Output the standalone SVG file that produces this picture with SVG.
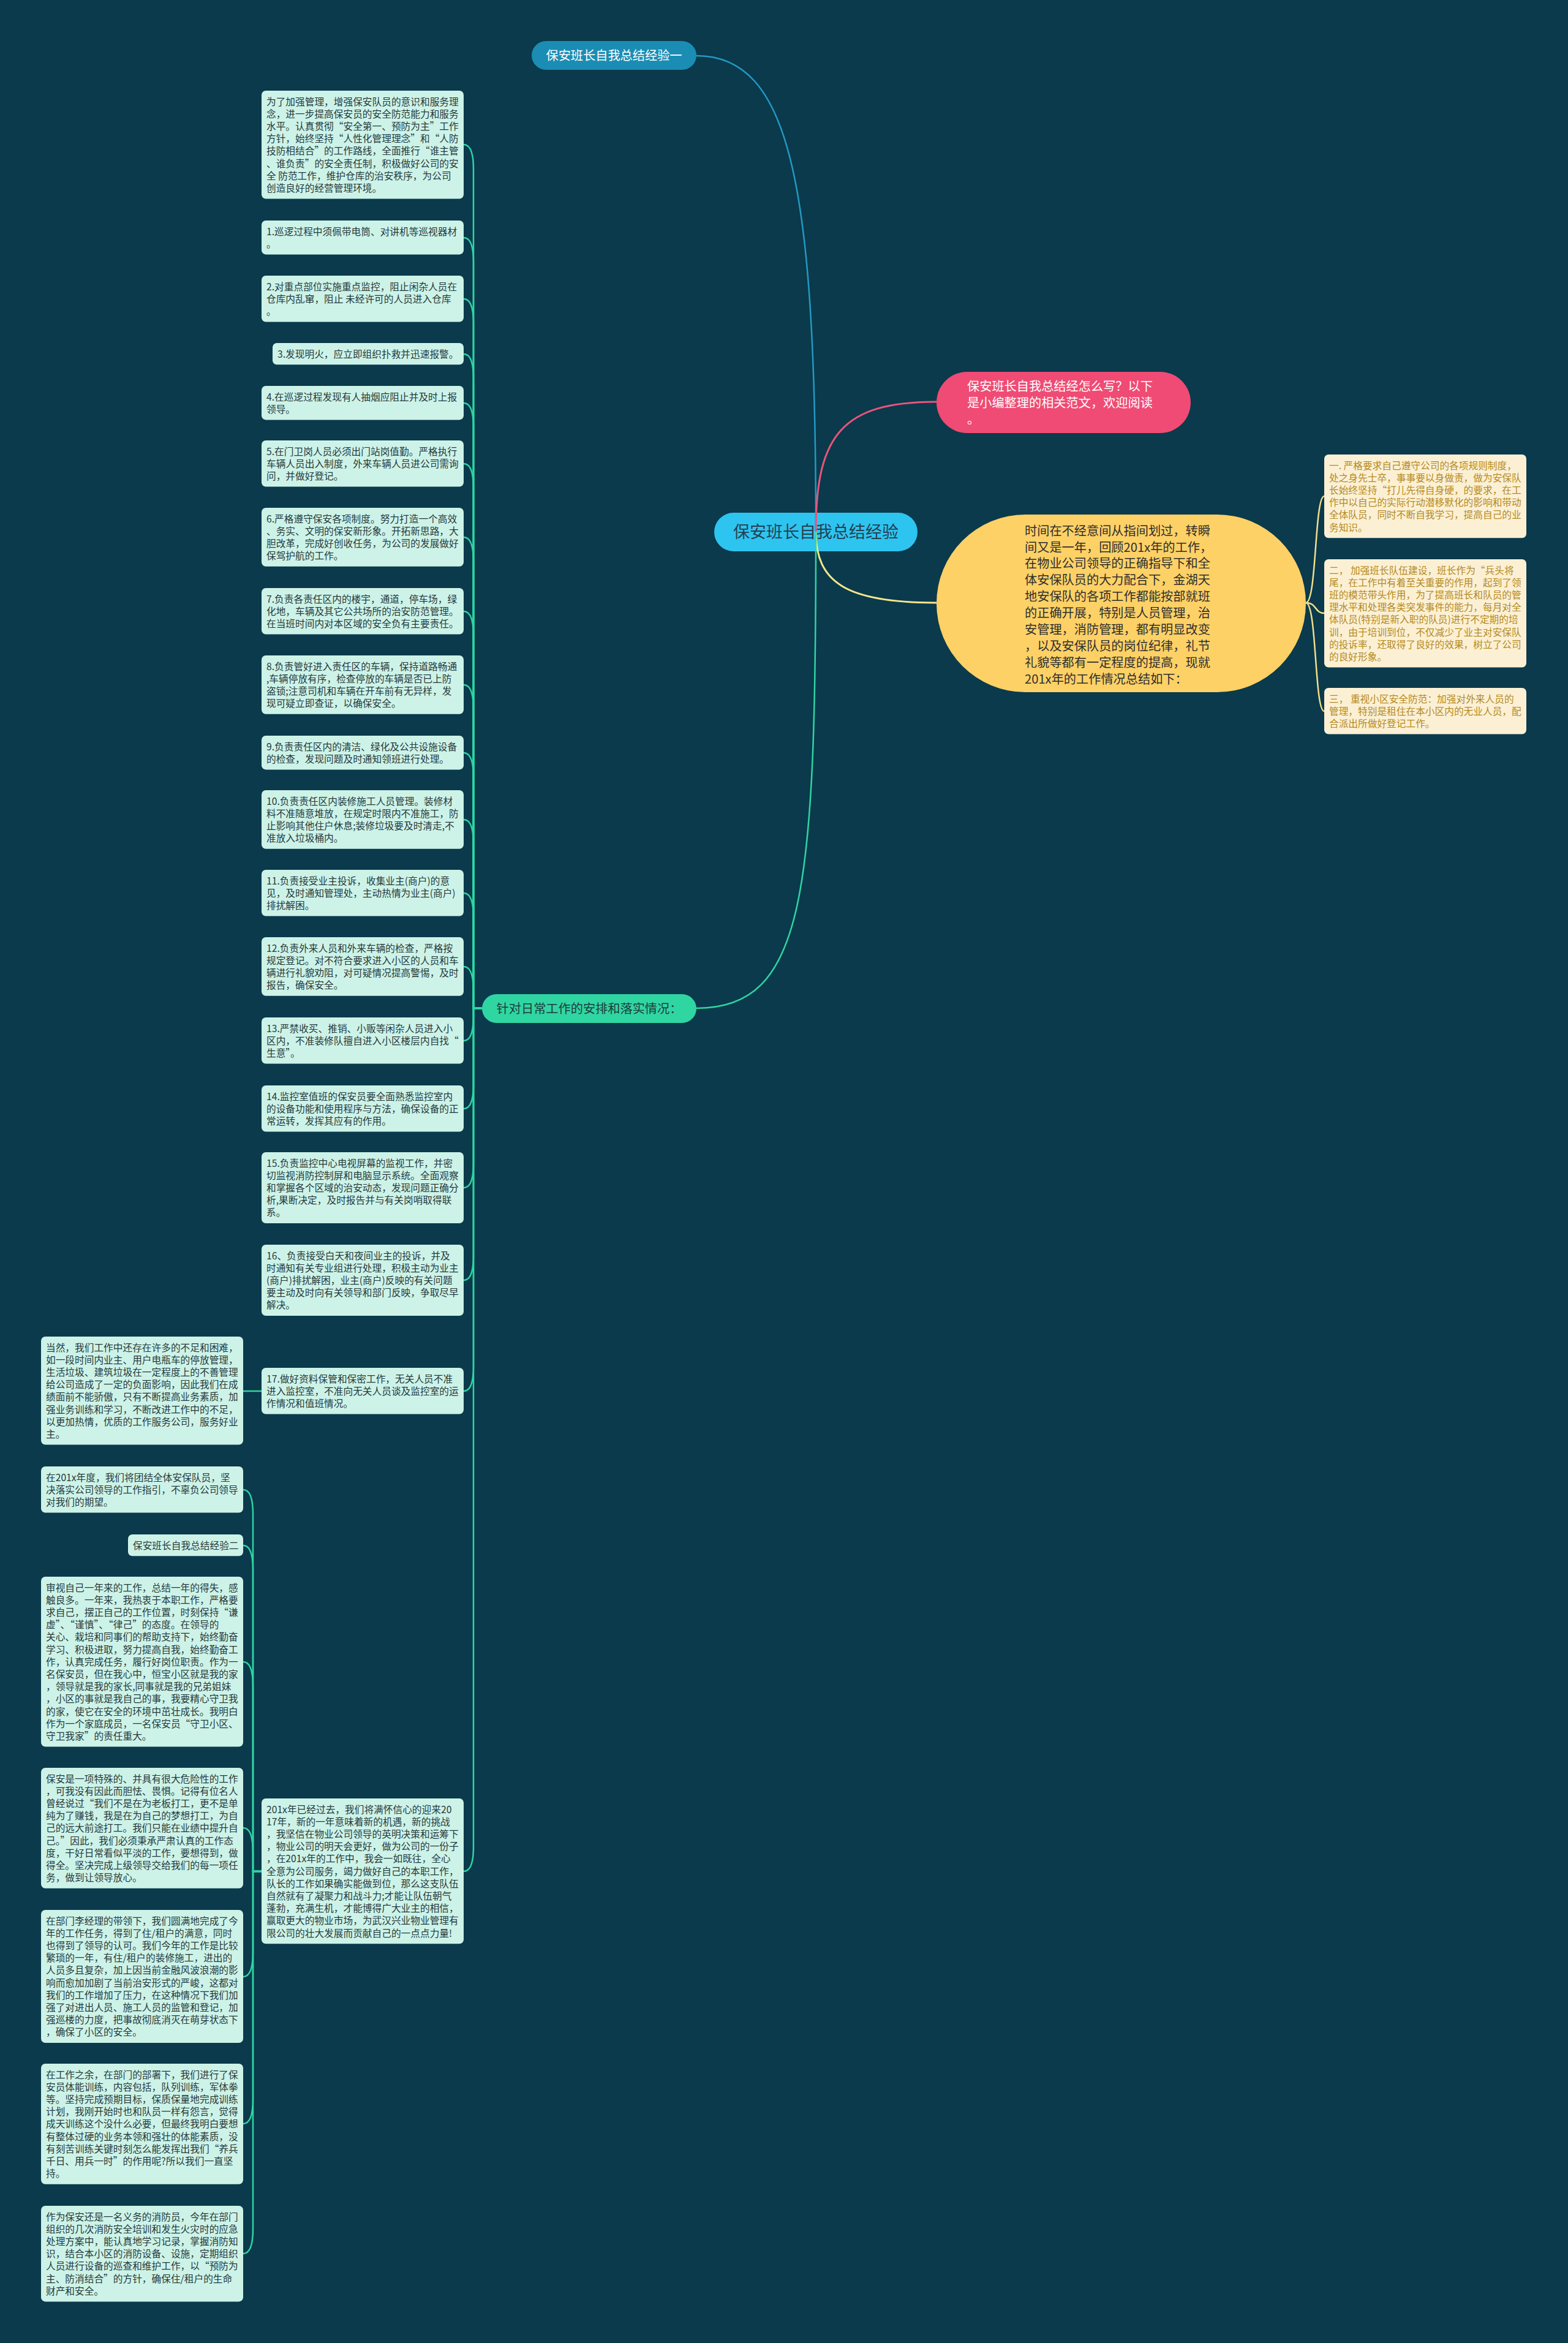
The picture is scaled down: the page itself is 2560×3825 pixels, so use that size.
<svg xmlns="http://www.w3.org/2000/svg" width="2560" height="3825" viewBox="0 0 2560 3825">
<style>
.t{font-family:"Noto Sans CJK SC","Noto Sans",sans-serif}
.ln{fill:#cdf3e8}
.lt{font-size:15.7px;fill:#26393c}
.rn{fill:#fcf0d4}
.rt{font-size:15.7px;fill:#b48a22}
.cg{fill:none;stroke:#2fd5a2;stroke-width:2.5}
.cy{fill:none;stroke:#f3de8a;stroke-width:2.5}
</style>
<rect x="0" y="0" width="2560" height="3825" fill="#0a3a4c"/>

<g id="root">
<rect x="1166" y="837" width="332" height="63" rx="31.5" fill="#2ec4f0"/>
<text class="t" x="1332" y="878" font-size="27" fill="#244050" text-anchor="middle">保安班长自我总结经验</text>
</g>

<g id="n-jingyan1">
<rect x="868" y="67" width="269" height="47" rx="23.5" fill="#1b8db4"/>
<text class="t" x="1002.5" y="98" font-size="20.2" fill="#ffffff" text-anchor="middle">保安班长自我总结经验一</text>
</g>

<g id="n-pink">
<rect x="1529" y="607" width="415" height="100" rx="50" fill="#ef4b74"/>
<text class="t" font-size="20.2" fill="#ffffff"><tspan x="1579" y="637.6">保安班长自我总结经怎么写？以下</tspan><tspan x="1579" y="664.6">是小编整理的相关范文，欢迎阅读</tspan><tspan x="1579" y="691.6">。</tspan></text>
</g>

<g id="n-yellow">
<rect x="1529" y="840" width="603" height="290" rx="145" fill="#fdd166"/>
<text class="t" font-size="20.2" fill="#2e2e2e"><tspan x="1673" y="873.6">时间在不经意间从指间划过，转瞬</tspan><tspan x="1673" dy="26.9">间又是一年，回顾201x年的工作，</tspan><tspan x="1673" dy="26.9">在物业公司领导的正确指导下和全</tspan><tspan x="1673" dy="26.9">体安保队员的大力配合下，金湖天</tspan><tspan x="1673" dy="26.9">地安保队的各项工作都能按部就班</tspan><tspan x="1673" dy="26.9">的正确开展，特别是人员管理，治</tspan><tspan x="1673" dy="26.9">安管理，消防管理，都有明显改变</tspan><tspan x="1673" dy="26.9">，以及安保队员的岗位纪律，礼节</tspan><tspan x="1673" dy="26.9">礼貌等都有一定程度的提高，现就</tspan><tspan x="1673" dy="26.9">201x年的工作情况总结如下：</tspan></text>
</g>

<g id="n-r1">
<rect class="rn" x="2162" y="742" width="330" height="136.2" rx="7"/>
<text class="t rt"><tspan x="2170" y="765.5">一. 严格要求自己遵守公司的各项规则制度，</tspan><tspan x="2170" dy="20.2">处之身先士卒，事事要以身做责，做为安保队</tspan><tspan x="2170" dy="20.2">长始终坚持“打儿先得自身硬，的要求，在工</tspan><tspan x="2170" dy="20.2">作中以自己的实际行动潜移默化的影响和带动</tspan><tspan x="2170" dy="20.2">全体队员，同时不断自我学习，提高自己的业</tspan><tspan x="2170" dy="20.2">务知识。</tspan></text>
</g>
<g id="n-r2">
<rect class="rn" x="2162" y="913" width="330" height="176.6" rx="7"/>
<text class="t rt"><tspan x="2170" y="936.5">二，  加强班长队伍建设，班长作为“兵头将</tspan><tspan x="2170" dy="20.2">尾，在工作中有着至关重要的作用，起到了领</tspan><tspan x="2170" dy="20.2">班的模范带头作用，为了提高班长和队员的管</tspan><tspan x="2170" dy="20.2">理水平和处理各类突发事件的能力，每月对全</tspan><tspan x="2170" dy="20.2">体队员(特别是新入职的队员)进行不定期的培</tspan><tspan x="2170" dy="20.2">训，由于培训到位，不仅减少了业主对安保队</tspan><tspan x="2170" dy="20.2">的投诉率，还取得了良好的效果，树立了公司</tspan><tspan x="2170" dy="20.2">的良好形象。</tspan></text>
</g>
<g id="n-r3">
<rect class="rn" x="2162" y="1123" width="330" height="75.6" rx="7"/>
<text class="t rt"><tspan x="2170" y="1146.5">三，  重视小区安全防范：加强对外来人员的</tspan><tspan x="2170" dy="20.2">管理，特别是租住在本小区内的无业人员，配</tspan><tspan x="2170" dy="20.2">合派出所做好登记工作。</tspan></text>
</g>

<g id="n-zhendui">
<rect x="787" y="1623" width="350" height="47" rx="23.5" fill="#30d6a2"/>
<text class="t" x="962" y="1654" font-size="20.2" fill="#1c3d3a" text-anchor="middle">针对日常工作的安排和落实情况：</text>
</g>

<g id="n-a">
<rect class="ln" x="427" y="148" width="330" height="176.6" rx="7"/>
<text class="t lt"><tspan x="435" y="171.5">为了加强管理，增强保安队员的意识和服务理</tspan><tspan x="435" dy="20.2">念，进一步提高保安员的安全防范能力和服务</tspan><tspan x="435" dy="20.2">水平。认真贯彻“安全第一、预防为主”工作</tspan><tspan x="435" dy="20.2">方针，始终坚持“人性化管理理念”和“人防</tspan><tspan x="435" dy="20.2">技防相结合”的工作路线，全面推行“谁主管</tspan><tspan x="435" dy="20.2">、谁负责”的安全责任制，积极做好公司的安</tspan><tspan x="435" dy="20.2">全 防范工作，维护仓库的治安秩序，为公司</tspan><tspan x="435" dy="20.2">创造良好的经营管理环境。</tspan></text>
</g>
<g id="n-1">
<rect class="ln" x="427" y="360" width="330" height="55.4" rx="7"/>
<text class="t lt"><tspan x="435" y="383.5">1.巡逻过程中须佩带电筒、对讲机等巡视器材</tspan><tspan x="435" dy="20.2">。</tspan></text>
</g>
<g id="n-2">
<rect class="ln" x="427" y="450" width="330" height="75.6" rx="7"/>
<text class="t lt"><tspan x="435" y="473.5">2.对重点部位实施重点监控，阻止闲杂人员在</tspan><tspan x="435" dy="20.2">仓库内乱窜，阻止 未经许可的人员进入仓库</tspan><tspan x="435" dy="20.2">。</tspan></text>
</g>
<g id="n-3">
<rect class="ln" x="445" y="560" width="312" height="35.2" rx="7"/>
<text class="t lt"><tspan x="453" y="583.5">3.发现明火，应立即组织扑救并迅速报警。</tspan></text>
</g>
<g id="n-4">
<rect class="ln" x="427" y="630" width="330" height="55.4" rx="7"/>
<text class="t lt"><tspan x="435" y="653.5">4.在巡逻过程发现有人抽烟应阻止并及时上报</tspan><tspan x="435" dy="20.2">领导。</tspan></text>
</g>
<g id="n-5">
<rect class="ln" x="427" y="719" width="330" height="75.6" rx="7"/>
<text class="t lt"><tspan x="435" y="742.5">5.在门卫岗人员必须出门站岗值勤。严格执行</tspan><tspan x="435" dy="20.2">车辆人员出入制度，外来车辆人员进公司需询</tspan><tspan x="435" dy="20.2">问，并做好登记。</tspan></text>
</g>
<g id="n-6">
<rect class="ln" x="427" y="829" width="330" height="95.8" rx="7"/>
<text class="t lt"><tspan x="435" y="852.5">6.严格遵守保安各项制度。努力打造一个高效</tspan><tspan x="435" dy="20.2">、务实、文明的保安新形象。开拓新思路，大</tspan><tspan x="435" dy="20.2">胆改革，完成好创收任务，为公司的发展做好</tspan><tspan x="435" dy="20.2">保驾护航的工作。</tspan></text>
</g>
<g id="n-7">
<rect class="ln" x="427" y="960" width="330" height="75.6" rx="7"/>
<text class="t lt"><tspan x="435" y="983.5">7.负责各责任区内的楼宇，通道，停车场，绿</tspan><tspan x="435" dy="20.2">化地，车辆及其它公共场所的治安防范管理。</tspan><tspan x="435" dy="20.2">在当班时间内对本区域的安全负有主要责任。</tspan></text>
</g>
<g id="n-8">
<rect class="ln" x="427" y="1070" width="330" height="95.8" rx="7"/>
<text class="t lt"><tspan x="435" y="1093.5">8.负责管好进入责任区的车辆，保持道路畅通</tspan><tspan x="435" dy="20.2">,车辆停放有序，检查停放的车辆是否已上防</tspan><tspan x="435" dy="20.2">盗锁;注意司机和车辆在开车前有无异样，发</tspan><tspan x="435" dy="20.2">现可疑立即查证，以确保安全。</tspan></text>
</g>
<g id="n-9">
<rect class="ln" x="427" y="1201" width="330" height="55.4" rx="7"/>
<text class="t lt"><tspan x="435" y="1224.5">9.负责责任区内的清洁、绿化及公共设施设备</tspan><tspan x="435" dy="20.2">的检查，发现问题及时通知领班进行处理。</tspan></text>
</g>
<g id="n-10">
<rect class="ln" x="427" y="1290" width="330" height="95.8" rx="7"/>
<text class="t lt"><tspan x="435" y="1313.5">10.负责责任区内装修施工人员管理。装修材</tspan><tspan x="435" dy="20.2">料不准随意堆放，在规定时限内不准施工，防</tspan><tspan x="435" dy="20.2">止影响其他住户休息;装修垃圾要及时清走,不</tspan><tspan x="435" dy="20.2">准放入垃圾桶内。</tspan></text>
</g>
<g id="n-11">
<rect class="ln" x="427" y="1420" width="330" height="75.6" rx="7"/>
<text class="t lt"><tspan x="435" y="1443.5">11.负责接受业主投诉，收集业主(商户)的意</tspan><tspan x="435" dy="20.2">见，及时通知管理处，主动热情为业主(商户)</tspan><tspan x="435" dy="20.2">排扰解困。</tspan></text>
</g>
<g id="n-12">
<rect class="ln" x="427" y="1530" width="330" height="95.8" rx="7"/>
<text class="t lt"><tspan x="435" y="1553.5">12.负责外来人员和外来车辆的检查，严格按</tspan><tspan x="435" dy="20.2">规定登记。对不符合要求进入小区的人员和车</tspan><tspan x="435" dy="20.2">辆进行礼貌劝阻，对可疑情况提高警惕，及时</tspan><tspan x="435" dy="20.2">报告，确保安全。</tspan></text>
</g>
<g id="n-13">
<rect class="ln" x="427" y="1661" width="330" height="75.6" rx="7"/>
<text class="t lt"><tspan x="435" y="1684.5">13.严禁收买、推销、小贩等闲杂人员进入小</tspan><tspan x="435" dy="20.2">区内，不准装修队擅自进入小区楼层内自找“</tspan><tspan x="435" dy="20.2">生意”。</tspan></text>
</g>
<g id="n-14">
<rect class="ln" x="427" y="1772" width="330" height="75.6" rx="7"/>
<text class="t lt"><tspan x="435" y="1795.5">14.监控室值班的保安员要全面熟悉监控室内</tspan><tspan x="435" dy="20.2">的设备功能和使用程序与方法，确保设备的正</tspan><tspan x="435" dy="20.2">常运转，发挥其应有的作用。</tspan></text>
</g>
<g id="n-15">
<rect class="ln" x="427" y="1881" width="330" height="116" rx="7"/>
<text class="t lt"><tspan x="435" y="1904.5">15.负责监控中心电视屏幕的监视工作，并密</tspan><tspan x="435" dy="20.2">切监视消防控制屏和电脑显示系统。全面观察</tspan><tspan x="435" dy="20.2">和掌握各个区域的治安动态，发现问题正确分</tspan><tspan x="435" dy="20.2">析,果断决定，及时报告并与有关岗哨取得联</tspan><tspan x="435" dy="20.2">系。</tspan></text>
</g>
<g id="n-16">
<rect class="ln" x="427" y="2032" width="330" height="116" rx="7"/>
<text class="t lt"><tspan x="435" y="2055.5">16、负责接受白天和夜间业主的投诉，并及</tspan><tspan x="435" dy="20.2">时通知有关专业组进行处理，积极主动为业主</tspan><tspan x="435" dy="20.2">(商户)排扰解困，业主(商户)反映的有关问题</tspan><tspan x="435" dy="20.2">要主动及时向有关领导和部门反映，争取尽早</tspan><tspan x="435" dy="20.2">解决。</tspan></text>
</g>
<g id="n-17">
<rect class="ln" x="427" y="2233" width="330" height="75.6" rx="7"/>
<text class="t lt"><tspan x="435" y="2256.5">17.做好资料保管和保密工作，无关人员不准</tspan><tspan x="435" dy="20.2">进入监控室，不准向无关人员谈及监控室的运</tspan><tspan x="435" dy="20.2">作情况和值班情况。</tspan></text>
</g>
<g id="n-201x">
<rect class="ln" x="427" y="2936" width="330" height="237.2" rx="7"/>
<text class="t lt"><tspan x="435" y="2959.5">201x年已经过去，我们将满怀信心的迎来20</tspan><tspan x="435" dy="20.2">17年，新的一年意味着新的机遇，新的挑战</tspan><tspan x="435" dy="20.2">，我坚信在物业公司领导的英明决策和运筹下</tspan><tspan x="435" dy="20.2">，物业公司的明天会更好，做为公司的一份子</tspan><tspan x="435" dy="20.2">，在201x年的工作中，我会一如既往，全心</tspan><tspan x="435" dy="20.2">全意为公司服务，竭力做好自己的本职工作，</tspan><tspan x="435" dy="20.2">队长的工作如果确实能做到位，那么这支队伍</tspan><tspan x="435" dy="20.2">自然就有了凝聚力和战斗力;才能让队伍朝气</tspan><tspan x="435" dy="20.2">蓬勃，充满生机，才能博得广大业主的相信，</tspan><tspan x="435" dy="20.2">赢取更大的物业市场，为武汉兴业物业管理有</tspan><tspan x="435" dy="20.2">限公司的壮大发展而贡献自己的一点点力量!</tspan></text>
</g>

<g id="n-dangran">
<rect class="ln" x="67" y="2182" width="330" height="176.6" rx="7"/>
<text class="t lt"><tspan x="75" y="2205.5">当然，我们工作中还存在许多的不足和困难，</tspan><tspan x="75" dy="20.2">如一段时间内业主、用户电瓶车的停放管理，</tspan><tspan x="75" dy="20.2">生活垃圾、建筑垃圾在一定程度上的不善管理</tspan><tspan x="75" dy="20.2">给公司造成了一定的负面影响，因此我们在成</tspan><tspan x="75" dy="20.2">绩面前不能骄傲，只有不断提高业务素质，加</tspan><tspan x="75" dy="20.2">强业务训练和学习，不断改进工作中的不足，</tspan><tspan x="75" dy="20.2">以更加热情，优质的工作服务公司，服务好业</tspan><tspan x="75" dy="20.2">主。</tspan></text>
</g>
<g id="n-niandu">
<rect class="ln" x="67" y="2394" width="330" height="75.6" rx="7"/>
<text class="t lt"><tspan x="75" y="2417.5">在201x年度，我们将团结全体安保队员，坚</tspan><tspan x="75" dy="20.2">决落实公司领导的工作指引，不辜负公司领导</tspan><tspan x="75" dy="20.2">对我们的期望。</tspan></text>
</g>
<g id="n-jingyan2">
<rect class="ln" x="209" y="2505" width="188" height="35.2" rx="7"/>
<text class="t lt"><tspan x="217" y="2528.5">保安班长自我总结经验二</tspan></text>
</g>
<g id="n-shenshi">
<rect class="ln" x="67" y="2574" width="330" height="277.6" rx="7"/>
<text class="t lt"><tspan x="75" y="2597.5">审视自己一年来的工作，总结一年的得失，感</tspan><tspan x="75" dy="20.2">触良多。一年来，我热衷于本职工作，严格要</tspan><tspan x="75" dy="20.2">求自己，摆正自己的工作位置，时刻保持“谦</tspan><tspan x="75" dy="20.2">虚”、“谨慎”、“律己”的态度。在领导的</tspan><tspan x="75" dy="20.2">关心、栽培和同事们的帮助支持下，始终勤奋</tspan><tspan x="75" dy="20.2">学习、积极进取，努力提高自我，始终勤奋工</tspan><tspan x="75" dy="20.2">作，认真完成任务，履行好岗位职责。作为一</tspan><tspan x="75" dy="20.2">名保安员，但在我心中，恒宝小区就是我的家</tspan><tspan x="75" dy="20.2">，领导就是我的家长,同事就是我的兄弟姐妹</tspan><tspan x="75" dy="20.2">，小区的事就是我自己的事，我要精心守卫我</tspan><tspan x="75" dy="20.2">的家，使它在安全的环境中茁壮成长。我明白</tspan><tspan x="75" dy="20.2">作为一个家庭成员，一名保安员“守卫小区、</tspan><tspan x="75" dy="20.2">守卫我家”的责任重大。</tspan></text>
</g>
<g id="n-baoan">
<rect class="ln" x="67" y="2886" width="330" height="196.8" rx="7"/>
<text class="t lt"><tspan x="75" y="2909.5">保安是一项特殊的、并具有很大危险性的工作</tspan><tspan x="75" dy="20.2">，可我没有因此而胆怯、畏惧。记得有位名人</tspan><tspan x="75" dy="20.2">曾经说过“我们不是在为老板打工，更不是单</tspan><tspan x="75" dy="20.2">纯为了赚钱，我是在为自己的梦想打工，为自</tspan><tspan x="75" dy="20.2">己的远大前途打工。我们只能在业绩中提升自</tspan><tspan x="75" dy="20.2">己。”因此，我们必须秉承严肃认真的工作态</tspan><tspan x="75" dy="20.2">度，干好日常看似平淡的工作，要想得到，做</tspan><tspan x="75" dy="20.2">得全。坚决完成上级领导交给我们的每一项任</tspan><tspan x="75" dy="20.2">务，做到让领导放心。</tspan></text>
</g>
<g id="n-bumen">
<rect class="ln" x="67" y="3118" width="330" height="217" rx="7"/>
<text class="t lt"><tspan x="75" y="3141.5">在部门李经理的带领下，我们圆满地完成了今</tspan><tspan x="75" dy="20.2">年的工作任务，得到了住/租户的满意，同时</tspan><tspan x="75" dy="20.2">也得到了领导的认可。我们今年的工作是比较</tspan><tspan x="75" dy="20.2">繁琐的一年，有住/租户的装修施工，进出的</tspan><tspan x="75" dy="20.2">人员多且复杂，加上因当前金融风波浪潮的影</tspan><tspan x="75" dy="20.2">响而愈加加剧了当前治安形式的严峻，这都对</tspan><tspan x="75" dy="20.2">我们的工作增加了压力，在这种情况下我们加</tspan><tspan x="75" dy="20.2">强了对进出人员、施工人员的监管和登记，加</tspan><tspan x="75" dy="20.2">强巡楼的力度，把事故彻底消灭在萌芽状态下</tspan><tspan x="75" dy="20.2">，确保了小区的安全。</tspan></text>
</g>
<g id="n-yuxia">
<rect class="ln" x="67" y="3369" width="330" height="196.8" rx="7"/>
<text class="t lt"><tspan x="75" y="3392.5">在工作之余，在部门的部署下，我们进行了保</tspan><tspan x="75" dy="20.2">安员体能训练，内容包括，队列训练，军体拳</tspan><tspan x="75" dy="20.2">等。坚持完成预期目标，保质保量地完成训练</tspan><tspan x="75" dy="20.2">计划，我刚开始时也和队员一样有怨言，觉得</tspan><tspan x="75" dy="20.2">成天训练这个没什么必要，但最终我明白要想</tspan><tspan x="75" dy="20.2">有整体过硬的业务本领和强壮的体能素质，没</tspan><tspan x="75" dy="20.2">有刻苦训练关键时刻怎么能发挥出我们“养兵</tspan><tspan x="75" dy="20.2">千日、用兵一时”的作用呢?所以我们一直坚</tspan><tspan x="75" dy="20.2">持。</tspan></text>
</g>
<g id="n-xiaofang">
<rect class="ln" x="67" y="3601" width="330" height="156.4" rx="7"/>
<text class="t lt"><tspan x="75" y="3624.5">作为保安还是一名义务的消防员，今年在部门</tspan><tspan x="75" dy="20.2">组织的几次消防安全培训和发生火灾时的应急</tspan><tspan x="75" dy="20.2">处理方案中，能认真地学习记录，掌握消防知</tspan><tspan x="75" dy="20.2">识，结合本小区的消防设备、设施，定期组织</tspan><tspan x="75" dy="20.2">人员进行设备的巡查和维护工作，以“预防为</tspan><tspan x="75" dy="20.2">主、防消结合”的方针，确保住/租户的生命</tspan><tspan x="75" dy="20.2">财产和安全。</tspan></text>
</g>

<g id="connectors">
<path d="M1137,91 C1290,91 1332,300 1332,868" fill="none" stroke="#2399c2" stroke-width="2.5"/>
<path d="M1332,868 C1332,710 1375,656 1529,656" fill="none" stroke="#e9557a" stroke-width="3"/>
<path d="M1332,868 C1332,950 1380,984 1529,984" fill="none" stroke="#f5e68c" stroke-width="3"/>
<path d="M1332,868 C1332,1460 1315,1646 1137,1646" class="cg"/>
<path d="M2132,984 C2150,984 2146,810 2162,810" class="cy"/>
<path d="M2132,984 C2150,984 2146,1001 2162,1001" class="cy"/>
<path d="M2132,984 C2150,984 2146,1161 2162,1161" class="cy"/>
<path d="M787,1646 H773 V276 Q773,236 757,236" class="cg"/>
<path d="M787,1646 H773 V428 Q773,388 757,388" class="cg"/>
<path d="M787,1646 H773 V528 Q773,488 757,488" class="cg"/>
<path d="M787,1646 H773 V618 Q773,578 757,578" class="cg"/>
<path d="M787,1646 H773 V698 Q773,658 757,658" class="cg"/>
<path d="M787,1646 H773 V797 Q773,757 757,757" class="cg"/>
<path d="M787,1646 H773 V917 Q773,877 757,877" class="cg"/>
<path d="M787,1646 H773 V1038 Q773,998 757,998" class="cg"/>
<path d="M787,1646 H773 V1158 Q773,1118 757,1118" class="cg"/>
<path d="M787,1646 H773 V1269 Q773,1229 757,1229" class="cg"/>
<path d="M787,1646 H773 V1378 Q773,1338 757,1338" class="cg"/>
<path d="M787,1646 H773 V1498 Q773,1458 757,1458" class="cg"/>
<path d="M787,1646 H773 V1618 Q773,1578 757,1578" class="cg"/>
<path d="M787,1646 H773 V1659 Q773,1699 757,1699" class="cg"/>
<path d="M787,1646 H773 V1770 Q773,1810 757,1810" class="cg"/>
<path d="M787,1646 H773 V1899 Q773,1939 757,1939" class="cg"/>
<path d="M787,1646 H773 V2050 Q773,2090 757,2090" class="cg"/>
<path d="M787,1646 H773 V2231 Q773,2271 757,2271" class="cg"/>
<path d="M787,1646 H773 V3015 Q773,3055 757,3055" class="cg"/>
<path d="M427,2271 H397" class="cg"/>
<path d="M427,3055 H413 V2472 Q413,2432 397,2432" class="cg"/>
<path d="M427,3055 H413 V2563 Q413,2523 397,2523" class="cg"/>
<path d="M427,3055 H413 V2753 Q413,2713 397,2713" class="cg"/>
<path d="M427,3055 H413 V3024 Q413,2984 397,2984" class="cg"/>
<path d="M427,3055 H413 V3187 Q413,3227 397,3227" class="cg"/>
<path d="M427,3055 H413 V3427 Q413,3467 397,3467" class="cg"/>
<path d="M427,3055 H413 V3639 Q413,3679 397,3679" class="cg"/>
</g>
</svg>
